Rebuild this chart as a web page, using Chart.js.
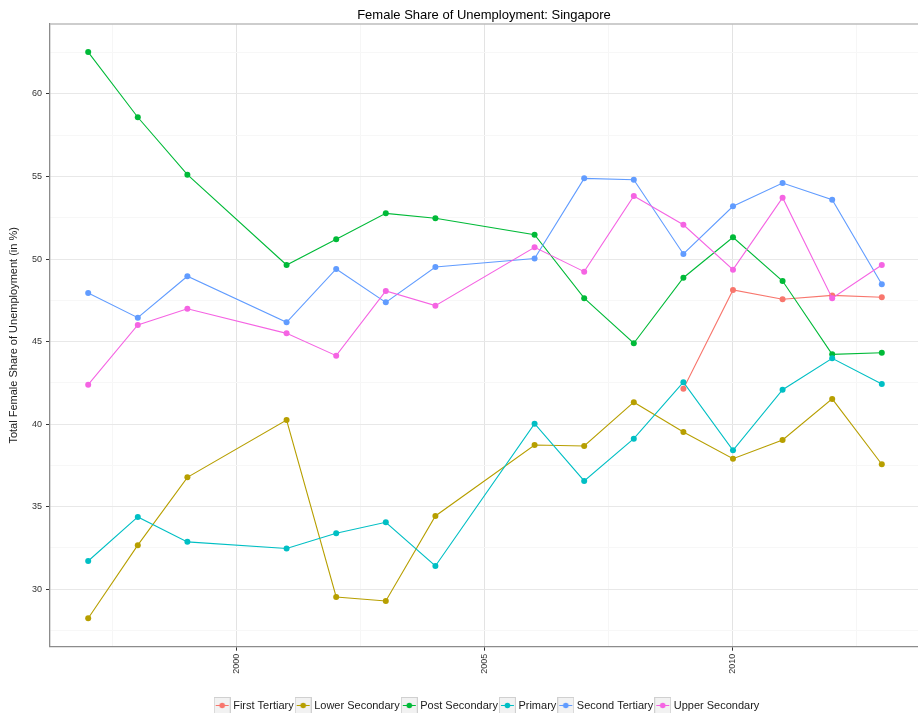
<!DOCTYPE html>
<html>
<head>
<meta charset="utf-8">
<script src="https://cdn.jsdelivr.net/npm/chart.js@4.4.1/dist/chart.umd.min.js"></script>
<style>
  body { margin: 0; background: #fff; }
  canvas { display: block; }
</style>
</head>
<body>
<canvas id="chart" width="918" height="713"></canvas>
<script>
// Female share of unemployment by education level
const years = [1997, 1998, 1999, 2001, 2002, 2003, 2004, 2006, 2007, 2008, 2009, 2010, 2011, 2012, 2013];

const firstTertiary  = [null, null, null, null, null, null, null, null, null, null, 42.15, 48.13, 47.57, 47.8, 47.69];
const lowerSecondary = [28.24, 32.67, 36.78, 40.25, 29.53, 29.29, 34.44, 38.74, 38.68, 41.33, 39.53, 37.91, 39.04, 41.53, 37.57];
const postSecondary  = [62.54, 58.59, 55.11, 49.64, 51.2, 52.77, 52.47, 51.48, 47.63, 44.9, 48.87, 51.32, 48.67, 44.23, 44.33];
const primary        = [31.71, 34.38, 32.87, 32.47, 33.39, 34.06, 31.41, 40.03, 36.56, 39.12, 42.54, 38.42, 42.09, 43.99, 42.43];
const secondTertiary = [47.95, 46.45, 48.96, 46.17, 49.4, 47.38, 49.52, 50.03, 54.89, 54.81, 50.31, 53.2, 54.61, 53.6, 48.47];
const upperSecondary = [42.39, 46.01, 46.99, 45.5, 44.15, 48.07, 47.18, 50.71, 49.24, 53.82, 52.08, 49.36, 53.72, 47.63, 49.64];

const seriesNames = ['First Tertiary', 'Lower Secondary', 'Post Secondary', 'Primary', 'Second Tertiary', 'Upper Secondary'];
const seriesValues = [firstTertiary, lowerSecondary, postSecondary, primary, secondTertiary, upperSecondary];
const colors = ['#F8766D', '#B79F00', '#00BA38', '#00BFC4', '#619CFF', '#F564E3'];

const xTicks = [1997.5, 2000, 2002.5, 2005, 2007.5, 2010, 2012.5];
const yTicks = [27.5, 30, 32.5, 35, 37.5, 40, 42.5, 45, 47.5, 50, 52.5, 55, 57.5, 60, 62.5];

const isMajor = v => Math.abs(v % 5) < 1e-6;

function legendKey(color) {
    let c = document.createElement('canvas');
    c.width = 17; c.height = 17;
    let g = c.getContext('2d');
    g.fillStyle = '#F2F2F2';
    g.fillRect(0, 0, 17, 17);
    g.strokeStyle = '#D0D0D0';
    g.lineWidth = 1;
    g.strokeRect(0.5, 0.5, 16, 16);
    g.strokeStyle = color;
    g.beginPath(); g.moveTo(2, 8.5); g.lineTo(15, 8.5); g.stroke();
    g.fillStyle = color;
    g.beginPath(); g.arc(8.5, 8.5, 2.8, 0, Math.PI * 2); g.fill();
    return c;
}

const datasets = seriesNames.map((name, i) => ({
    label: name,
    data: years.map((yr, j) => ({x: yr, y: seriesValues[i][j]})).filter(p => p.y !== null),
    borderColor: colors[i],
    backgroundColor: colors[i],
    borderWidth: 1.1,
    pointRadius: 3,
    pointBorderWidth: 0,
    pointHoverRadius: 3,
    tension: 0,
    order: -i
}));

// stretch the plot panel to the right edge and centre title/legend on it
const fixLayout = {
    id: 'fixLayout',
    afterLayout(chart) {
        const a = chart.chartArea;
        const xs = chart.scales.x;
        a.right = chart.width;
        a.width = a.right - a.left;
        xs.right = a.right;
        xs.width = a.width;
        xs.configure();
        chart.titleBlock.left = a.left;
        chart.titleBlock.right = a.right;
        chart.legend.left = a.left + 8;
        chart.legend.right = a.right;
        chart.legend.top += 8;
    },
    afterDraw(chart) {
        const ctx = chart.ctx, a = chart.chartArea;
        ctx.save();
        ctx.strokeStyle = '#BDBDBD';
        ctx.lineWidth = 1.3;
        ctx.beginPath(); ctx.moveTo(a.left, a.top); ctx.lineTo(a.right, a.top); ctx.stroke();
        ctx.restore();
    }
};

new Chart(document.getElementById('chart').getContext('2d'), {
    type: 'line',
    data: { datasets: datasets },
    options: {
        responsive: false,
        animation: false,
        events: [],
        layout: { padding: 0 },
        scales: {
            x: {
                type: 'linear',
                min: 1996.23,
                max: 2013.73,
                afterBuildTicks: s => { s.ticks = xTicks.map(v => ({value: v})); },
                afterFit: s => { s.height = 41.3; s.paddingLeft = 0; s.paddingRight = 0; },
                grid: {
                    color: ctx => isMajor(ctx.tick.value) ? '#E3E3E3' : '#F6F6F6',
                    tickColor: ctx => isMajor(ctx.tick.value) ? '#333333' : 'rgba(0,0,0,0)',
                    tickLength: 4,
                    lineWidth: 1
                },
                border: { color: '#8C8C8C', width: 1.3 },
                ticks: {
                    autoSkip: false,
                    minRotation: 90,
                    maxRotation: 90,
                    padding: 3,
                    color: '#333333',
                    font: { family: 'Liberation Sans, Arial', size: 9 },
                    callback: v => isMajor(v) ? String(v) : ''
                }
            },
            y: {
                min: 26.52,
                max: 64.24,
                afterBuildTicks: s => { s.ticks = yTicks.map(v => ({value: v})); },
                afterFit: s => { s.width = 50; s.paddingTop = 0; s.paddingBottom = 0; },
                grid: {
                    color: ctx => isMajor(ctx.tick.value) ? '#E8E8E8' : '#F7F7F7',
                    tickColor: ctx => isMajor(ctx.tick.value) ? '#333333' : 'rgba(0,0,0,0)',
                    tickLength: 4,
                    lineWidth: 1
                },
                border: { color: '#8C8C8C', width: 1.3 },
                ticks: {
                    padding: 4,
                    color: '#333333',
                    font: { family: 'Liberation Sans, Arial', size: 9 },
                    callback: v => isMajor(v) ? String(v) : ''
                },
                title: {
                    display: true,
                    text: 'Total Female Share of Unemployment (in %)',
                    color: '#1A1A1A',
                    font: { family: 'Liberation Sans, Arial', size: 11 },
                    padding: { top: 7, bottom: 0 }
                }
            }
        },
        plugins: {
            title: {
                display: true,
                text: 'Female Share of Unemployment: Singapore',
                color: '#000000',
                font: { family: 'Liberation Sans, Arial', size: 13, weight: 'normal', lineHeight: 1.2 },
                padding: { top: 8, bottom: 0.4 }
            },
            legend: {
                position: 'bottom',
                labels: {
                    usePointStyle: true,
                    padding: 4,
                    color: '#1A1A1A',
                    font: { family: 'Liberation Sans, Arial', size: 11 },
                    generateLabels: chart => chart.data.datasets.map((ds, i) => ({
                        text: ds.label,
                        pointStyle: legendKey(colors[i]),
                        fillStyle: colors[i],
                        strokeStyle: colors[i],
                        lineWidth: 0,
                        fontColor: '#1A1A1A',
                        datasetIndex: i
                    }))
                }
            },
            tooltip: { enabled: false }
        }
    },
    plugins: [fixLayout]
});
</script>
</body>
</html>
